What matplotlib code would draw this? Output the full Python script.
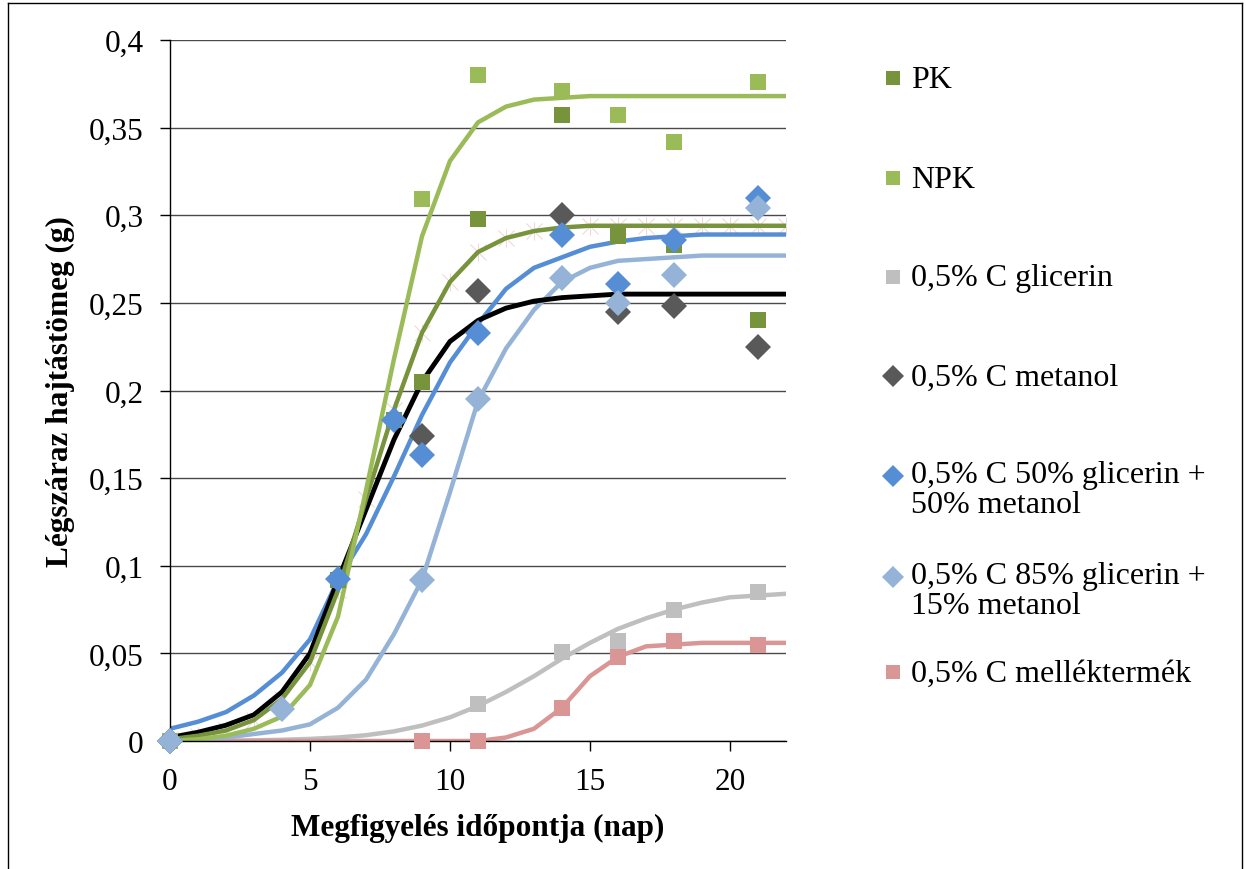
import matplotlib
matplotlib.use("Agg")
import matplotlib.pyplot as plt
from matplotlib.lines import Line2D
import numpy as np

plt.rcParams['font.family'] = ['Liberation Serif', 'DejaVu Serif']

# ---------------- data ----------------
series_names = ["PK", "NPK", "0,5% C glicerin", "0,5% C metanol",
                "0,5% C 50% glicerin +\n50% metanol",
                "0,5% C 85% glicerin +\n15% metanol",
                "0,5% C melléktermék"]

# measured points
pk_x = [0, 6, 8, 9, 11, 14, 16, 18, 21]
pk_y = [0.0, 0.092, 0.183, 0.205, 0.298, 0.357, 0.288, 0.283, 0.240]
npk_x = [0, 9, 11, 14, 16, 18, 21]
npk_y = [0.0, 0.309, 0.380, 0.371, 0.357, 0.342, 0.376]
gli_x = [0, 9, 11, 14, 16, 18, 21]
gli_y = [0.0, 0.0, 0.021, 0.051, 0.057, 0.075, 0.085]
met_x = [0, 9, 11, 14, 16, 18, 21]
met_y = [0.0, 0.174, 0.257, 0.300, 0.245, 0.248, 0.225]
g50_x = [0, 6, 8, 9, 11, 14, 16, 18, 21]
g50_y = [0.0, 0.0925, 0.183, 0.163, 0.233, 0.289, 0.261, 0.286, 0.310]
g85_x = [0, 4, 9, 11, 14, 16, 18, 21]
g85_y = [0.0, 0.018, 0.092, 0.195, 0.264, 0.250, 0.266, 0.304]
mel_x = [0, 9, 11, 14, 16, 18, 21]
mel_y = [0.0, 0.0, 0.0, 0.019, 0.048, 0.057, 0.055]

# fitted curves read at integer days
fit_days = list(range(0, 23))
fit_pk = [0.001, 0.003, 0.006, 0.012, 0.024, 0.045, 0.086, 0.138, 0.189, 0.233, 0.262,
          0.279, 0.287, 0.291, 0.293, 0.294, 0.294, 0.294, 0.294, 0.294, 0.294, 0.294, 0.294]
fit_npk = [0.000, 0.001, 0.003, 0.007, 0.014, 0.032, 0.071, 0.143, 0.218, 0.288, 0.331,
           0.353, 0.362, 0.366, 0.367, 0.368, 0.368, 0.368, 0.368, 0.368, 0.368, 0.368, 0.368]
fit_gli = [0.0, 0.0001, 0.0002, 0.0004, 0.0007, 0.0012, 0.002, 0.0033, 0.0055, 0.0088, 0.0135,
           0.020, 0.028, 0.037, 0.047, 0.056, 0.064, 0.070, 0.075, 0.079, 0.082, 0.083, 0.084]
fit_met = [0.002, 0.005, 0.009, 0.015, 0.028, 0.050, 0.092, 0.132, 0.172, 0.205, 0.228,
           0.240, 0.247, 0.251, 0.253, 0.254, 0.255, 0.255, 0.255, 0.255, 0.255, 0.255, 0.255]
fit_g50 = [0.007, 0.011, 0.0165, 0.026, 0.039, 0.058, 0.092, 0.118, 0.151, 0.186, 0.216,
           0.238, 0.258, 0.270, 0.276, 0.282, 0.285, 0.287, 0.288, 0.289, 0.289, 0.289, 0.289]
fit_g85 = [0.0005, 0.001, 0.002, 0.004, 0.006, 0.0095, 0.019, 0.035, 0.061, 0.092, 0.142,
           0.194, 0.224, 0.246, 0.262, 0.270, 0.274, 0.275, 0.276, 0.277, 0.277, 0.277, 0.277]
fit_mel = [0.0, 0.0, 0.0, 0.0, 0.0, 0.0, 0.0, 0.0, 0.0, 0.0, 0.0, 0.0,
           0.002, 0.007, 0.019, 0.037, 0.048, 0.054, 0.055, 0.056, 0.056, 0.056, 0.056]

x_ticks = [0, 5, 10, 15, 20]
y_ticks = [0, 0.05, 0.1, 0.15, 0.2, 0.25, 0.3, 0.35, 0.4]
y_tick_labels = ["0", "0,05", "0,1", "0,15", "0,2", "0,25", "0,3", "0,35", "0,4"]

# ---------------- style ----------------
c_pk = '#77933C'
c_npk = '#9BBB59'
c_gli = '#BFBFBF'
c_met = '#595959'
c_g50 = '#558ED5'
c_g85 = '#95B3D7'
c_mel = '#D99694'

W, H = 1246, 870
fig = plt.figure(figsize=(W / 100, H / 100), dpi=100)
ax = fig.add_axes([170 / W, 1 - 742 / H, (786 - 170) / W, (742 - 41) / H])

FS = 22.5
LFS = 23

# faint asterisk markers along the PK fit
ax.plot(fit_days, fit_pk, linestyle='none', marker='x', markersize=11,
        markeredgewidth=0.8, color='#EED9D9', zorder=1.5)
ax.plot(fit_days, fit_pk, linestyle='none', marker='|', markersize=13,
        markeredgewidth=0.8, color='#EED9D9', zorder=1.5)

# fitted curves
lw = 3.2
ax.plot(fit_days, fit_gli, color=c_gli, lw=lw, zorder=2, solid_capstyle='round')
ax.plot(fit_days, fit_mel, color=c_mel, lw=lw, zorder=2, solid_capstyle='round')
ax.plot(fit_days, fit_g85, color=c_g85, lw=lw, zorder=2, solid_capstyle='round')
ax.plot(fit_days, fit_g50, color=c_g50, lw=lw, zorder=2, solid_capstyle='round')
ax.plot(fit_days, fit_met, color='black', lw=3.5, zorder=2, solid_capstyle='round')
ax.plot(fit_days, fit_pk, color=c_pk, lw=lw, zorder=2, solid_capstyle='round')
ax.plot(fit_days, fit_npk, color=c_npk, lw=lw, zorder=2, solid_capstyle='round')

# measured points
sq = 11
dm = 13.5
kw = dict(zorder=3, markeredgewidth=0, clip_on=False)
ax.plot(gli_x, gli_y, 's', color=c_gli, markersize=sq, **kw)
ax.plot(mel_x, mel_y, 's', color=c_mel, markersize=sq, **kw)
ax.plot(pk_x, pk_y, 's', color=c_pk, markersize=sq, **kw)
ax.plot(npk_x, npk_y, 's', color=c_npk, markersize=sq, **kw)
ax.plot(met_x, met_y, 'D', color=c_met, markersize=dm, **kw)
ax.plot(g50_x, g50_y, 'D', color=c_g50, markersize=dm, **kw)
ax.plot(g85_x, g85_y, 'D', color=c_g85, markersize=dm, **kw)

ax.set_xlim(0, 22)
ax.set_ylim(0, 0.4)
ax.set_xticks(x_ticks)
ax.set_xticklabels([str(t) for t in x_ticks])
ax.set_yticks(y_ticks)
ax.set_yticklabels(y_tick_labels)
ax.tick_params(axis='both', direction='out', length=7, width=1, color='black',
               labelsize=FS)
ax.tick_params(axis='y', pad=12)
ax.tick_params(axis='x', pad=12)
ax.yaxis.grid(True, color='#4a4a4a', lw=1)
ax.set_axisbelow(True)
for s in ['top', 'right']:
    ax.spines[s].set_visible(False)
ax.spines['left'].set_color('black')
ax.spines['bottom'].set_color('black')
ax.spines['left'].set_linewidth(1)
ax.spines['bottom'].set_linewidth(1)
ax.spines['bottom'].set_zorder(2.5)

ax.set_xlabel("Megfigyelés időpontja (nap)", fontsize=FS, fontweight='bold', labelpad=12)
ax.set_ylabel("Légszáraz hajtástömeg (g)", fontsize=FS, fontweight='bold', labelpad=10)

# ---------------- legend (manual) ----------------
leg_colors = [c_pk, c_npk, c_gli, c_met, c_g50, c_g85, c_mel]
leg_markers = ['s', 's', 's', 'D', 'D', 'D', 's']
leg_marker_y = [79, 179, 278, 377, 477, 578, 673]
leg_text_y = [80, 180, 279, 378, 478, 579, 674]
for name, col, mk, my, ty in zip(series_names, leg_colors, leg_markers, leg_marker_y, leg_text_y):
    ms = 9.5 if mk == 's' else 11
    fig.add_artist(Line2D([893 / W], [1 - my / H], marker=mk, color=col, markersize=ms,
                          markeredgewidth=0, linestyle='none', transform=fig.transFigure))
    if '\n' in name:
        fig.text(911 / W, 1 - (ty - 17) / H, name, fontsize=LFS, va='top', ha='left',
                 linespacing=1.05)
    else:
        fig.text(911 / W, 1 - ty / H, name, fontsize=LFS, va='center', ha='left')

# outer frame
fr = 'black'
fig.add_artist(Line2D([8 / W, 8 / W], [0, 1 - 4 / H], color=fr, lw=1, transform=fig.transFigure))
fig.add_artist(Line2D([8 / W, 1242 / W], [1 - 4 / H, 1 - 4 / H], color=fr, lw=1, transform=fig.transFigure))
fig.add_artist(Line2D([1242 / W, 1242 / W], [0, 1 - 4 / H], color=fr, lw=1, transform=fig.transFigure))

fig.savefig("out.png", dpi=100)
